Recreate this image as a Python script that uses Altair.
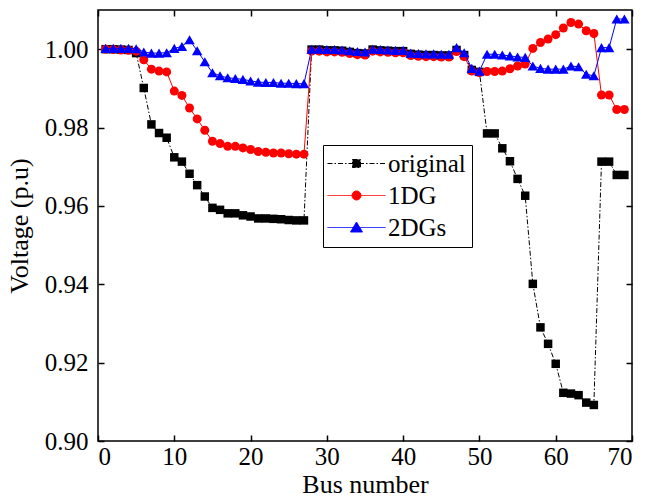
import altair as alt
import pandas as pd

# ---------------- data ----------------
bus = list(range(1, 70))

original = [1.0000, 1.0000, 0.9999, 0.9998, 0.9990, 0.9901, 0.9808, 0.9786, 0.9774, 0.9724,
            0.9713, 0.9682, 0.9653, 0.9624, 0.9595, 0.9590, 0.9581, 0.9581, 0.9576, 0.9573,
            0.9568, 0.9568, 0.9567, 0.9566, 0.9564, 0.9563, 0.9563,
            0.9999, 0.9999, 0.9997, 0.9997, 0.9996, 0.9993, 0.9990, 0.9989,
            0.9999, 0.9997, 0.9996, 0.9995, 0.9995, 0.9988, 0.9986, 0.9985, 0.9985, 0.9984, 0.9984,
            0.9998, 0.9985, 0.9947, 0.9942,
            0.9785, 0.9785, 0.9747, 0.9714, 0.9669, 0.9626, 0.9401, 0.9290, 0.9248, 0.9197,
            0.9123, 0.9121, 0.9117, 0.9098, 0.9092,
            0.9713, 0.9713, 0.9679, 0.9679]

dg1 = [1.0000, 0.9999, 0.9998, 0.9997, 0.9995,
       0.9973, 0.9949, 0.9944, 0.9942, 0.9893, 0.9882, 0.9850, 0.9822, 0.9793, 0.9765,
       0.9759, 0.9752, 0.9752, 0.9748, 0.9744, 0.9739, 0.9737, 0.9735, 0.9735, 0.9733,
       0.9732, 0.9732,
       0.9995, 0.9995, 0.9993, 0.9993, 0.9992, 0.9989, 0.9986, 0.9985,
       0.9995, 0.9993, 0.9992, 0.9991, 0.9991, 0.9984, 0.9982, 0.9981, 0.9981, 0.9980, 0.9980,
       0.9994, 0.9981,
       0.9944, 0.9940, 0.9943, 0.9943, 0.9944, 0.9950, 0.9957, 0.9962, 1.0002, 1.0017,
       1.0026, 1.0037, 1.0054, 1.0068, 1.0064, 1.0047, 1.0040, 0.9883, 0.9883, 0.9846, 0.9846]

dg2 = [1.0002, 1.0002, 1.0002, 1.0002, 1.0001,
       0.9993, 0.9990, 0.9990, 0.9991, 1.0002, 1.0007, 1.0024, 0.9996, 0.9968, 0.9940,
       0.9932, 0.9927, 0.9925, 0.9923, 0.9919, 0.9916, 0.9915, 0.9915, 0.9913, 0.9913,
       0.9912, 0.9912,
       1.0000, 1.0000, 0.9999, 0.9999, 0.9998, 0.9996, 0.9994, 0.9993,
       1.0000, 0.9999, 0.9998, 0.9997, 0.9997, 0.9990, 0.9989, 0.9988, 0.9988, 0.9987, 0.9987,
       1.0004, 0.9991,
       0.9951, 0.9944, 0.9987, 0.9987, 0.9985, 0.9983, 0.9980, 0.9979, 0.9957, 0.9951,
       0.9949, 0.9949, 0.9949, 0.9957, 0.9955, 0.9936, 0.9932, 1.0004, 1.0004, 1.0077, 1.0077]

series_names = ["original", "1DG", "2DGs"]
x_ticks = [0, 10, 20, 30, 40, 50, 60, 70]
y_ticks = [0.90, 0.92, 0.94, 0.96, 0.98, 1.00]

# ---------------- styles ----------------
colors = ["#000000", "#ff0000", "#0000ff"]
dashes = [[5, 2, 1.5, 2], [1, 0], [1, 0]]
marker_shapes = ["square", "circle", "triangle-up"]
marker_sizes = [72, 81, 110]
legend_paths = [
    "M-5.8,0H5.8M-0.8,-0.8H0.8V0.8H-0.8Z",
    "M-5.8,0H5.8M0.9,0A0.9,0.9,0,1,1,-0.9,0A0.9,0.9,0,1,1,0.9,0Z",
    "M-5.8,0H5.8M0,-1.1L1.2,0.9L-1.2,0.9Z",
]

rows = []
for name, vals in zip(series_names, [original, dg1, dg2]):
    for b, v in zip(bus, vals):
        rows.append({"bus": b, "voltage": v, "series": name})
df = pd.DataFrame(rows)

FONT = "Liberation Serif"
x_scale = alt.Scale(domain=[0, 70], nice=False, zero=False)
y_scale = alt.Scale(domain=[0.90, 1.01], nice=False, zero=False)

common_axis = dict(grid=False, domain=False, ticks=True, tickSize=6, offset=-6,
                   tickColor="black", tickWidth=1.5, labelFont=FONT, labelFontSize=25,
                   labelColor="black", titleFont=FONT, titleFontSize=26,
                   titleFontWeight="normal", titleColor="black")

x_axis = alt.Axis(values=x_ticks, title="Bus number", labelPadding=3, titlePadding=2,
                  **common_axis)
y_axis = alt.Axis(values=y_ticks, format=".2f", title="Voltage (p.u)", labelPadding=10,
                  titlePadding=12, **common_axis)
top_axis = alt.Axis(values=x_ticks, orient="top", labels=False, title=None, grid=False,
                    domain=False, tickSize=6, offset=-6, tickColor="black", tickWidth=1.5)
right_axis = alt.Axis(values=y_ticks, orient="right", labels=False, title=None, grid=False,
                      domain=False, tickSize=6, offset=-6, tickColor="black", tickWidth=1.5)

base = alt.Chart(df)
layers = []
for i, name in enumerate(series_names):
    sub = base.transform_filter(alt.datum.series == name)
    line_kwargs = dict(color=colors[i], strokeWidth=1)
    if i == 0:
        line_kwargs["strokeDash"] = dashes[0]
    line = sub.mark_line(**line_kwargs).encode(
        x=alt.X("bus:Q", scale=x_scale, axis=x_axis if i == 0 else None),
        y=alt.Y("voltage:Q", scale=y_scale, axis=y_axis if i == 0 else None),
    )
    pts = sub.mark_point(shape=marker_shapes[i], filled=True, color=colors[i],
                         size=marker_sizes[i], opacity=1).encode(
        x=alt.X("bus:Q", scale=x_scale, axis=None),
        y=alt.Y("voltage:Q", scale=y_scale, axis=None),
    )
    layers += [line, pts]

legend_def = alt.Legend(
    orient="none", legendX=225, legendY=135, title=None,
    strokeColor="black", fillColor="white", padding=6,
    labelFont=FONT, labelFontSize=25, labelColor="black", labelLimit=400,
    symbolSize=100, symbolOffset=15, labelOffset=19, rowPadding=6,
    symbolStrokeWidth=1,
)

legend_layer = base.transform_filter("false").mark_point(filled=True, opacity=1, strokeWidth=1).encode(
    x=alt.X("bus:Q", scale=x_scale, axis=top_axis),
    y=alt.Y("voltage:Q", scale=y_scale, axis=right_axis),
    fill=alt.Fill("series:N", scale=alt.Scale(domain=series_names, range=colors), legend=legend_def),
    stroke=alt.Stroke("series:N", scale=alt.Scale(domain=series_names, range=colors), legend=legend_def),
    shape=alt.Shape("series:N", scale=alt.Scale(domain=series_names, range=legend_paths), legend=legend_def),
    strokeDash=alt.StrokeDash("series:N", scale=alt.Scale(domain=series_names, range=dashes), legend=legend_def),
)

chart = (
    alt.layer(*layers, legend_layer)
    .resolve_axis(x="independent", y="independent")
    .properties(
        width=534, height=431,
        autosize=alt.AutoSizeParams(type="none"),
        padding={"left": 98, "top": 10, "right": 14, "bottom": 58},
        background="white",
    )
    .configure_view(stroke="black", strokeWidth=1.5)
)

chart.save("out.html", embed_options={"renderer": "svg", "actions": False})
